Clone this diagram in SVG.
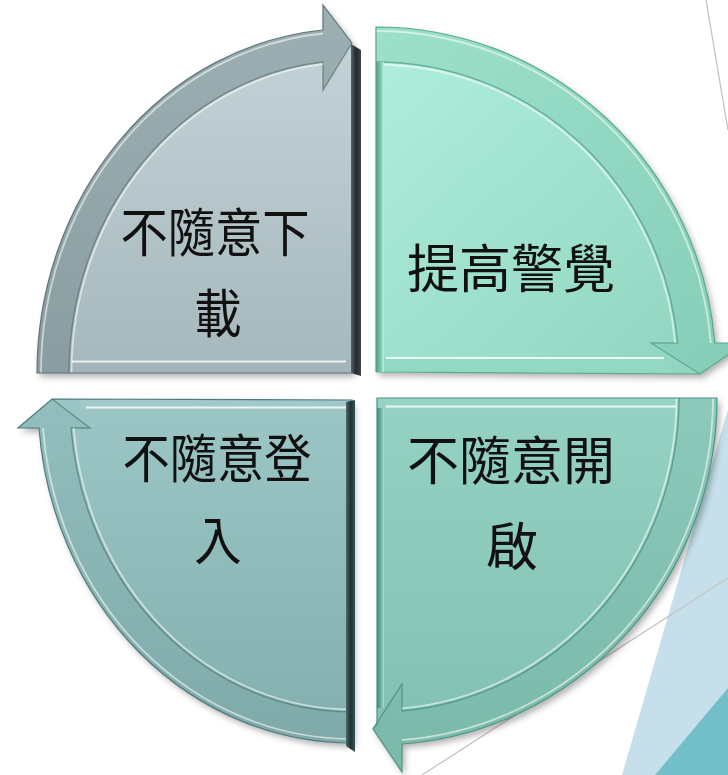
<svg xmlns="http://www.w3.org/2000/svg" width="728" height="775" viewBox="0 0 728 775">
<style>
.edge{fill:none;stroke-width:1.2}
.hl{fill:none;stroke:#ffffff;stroke-opacity:.55;stroke-width:1.8}
.gr{fill:none;stroke-opacity:.7;stroke-width:1.4}
.lbl{font-family:"Noto Sans CJK TC","Noto Sans CJK SC",sans-serif;font-size:52px;fill:#111;text-anchor:middle}
.bg{stroke:#c4c4c4;stroke-width:1.3;fill:none}
</style>
<defs>
<filter id="sh" x="-10%" y="-10%" width="125%" height="125%">
<feDropShadow dx="3" dy="4" stdDeviation="3" flood-color="#000" flood-opacity="0.3"/>
</filter>
<linearGradient id="gTL" x1="0" y1="0" x2="0" y2="1"><stop offset="0" stop-color="#c6d5d9"/><stop offset="1" stop-color="#a6b8bc"/></linearGradient>
<linearGradient id="gTLs" x1="0" y1="0" x2="0" y2="1"><stop offset="0" stop-color="#9cafb3"/><stop offset="1" stop-color="#8a9da1"/></linearGradient>
<linearGradient id="gTR" x1="0" y1="0" x2="1" y2="1"><stop offset="0" stop-color="#b0efdd"/><stop offset="1" stop-color="#8ed3be"/></linearGradient>
<linearGradient id="gTRs" x1="0" y1="0" x2="1" y2="1"><stop offset="0" stop-color="#9ce0ca"/><stop offset="1" stop-color="#86cdb7"/></linearGradient>
<linearGradient id="gBR" x1="0" y1="0" x2="0" y2="1"><stop offset="0" stop-color="#95d2c4"/><stop offset="1" stop-color="#7fbeb0"/></linearGradient>
<linearGradient id="gBRs" x1="0" y1="0" x2="0" y2="1"><stop offset="0" stop-color="#8bcaba"/><stop offset="1" stop-color="#7ab9aa"/></linearGradient>
<linearGradient id="gBL" x1="0" y1="0" x2="0" y2="1"><stop offset="0" stop-color="#9bc6c5"/><stop offset="1" stop-color="#82afae"/></linearGradient>
<linearGradient id="gBLs" x1="0" y1="0" x2="0" y2="1"><stop offset="0" stop-color="#92bebd"/><stop offset="1" stop-color="#7faaa9"/></linearGradient>
<linearGradient id="darkV" x1="0" y1="0" x2="1" y2="0"><stop offset="0" stop-color="#56626a"/><stop offset="0.5" stop-color="#23292c"/><stop offset="1" stop-color="#3e474b"/></linearGradient>
<linearGradient id="darkV2" x1="0" y1="0" x2="1" y2="0"><stop offset="0" stop-color="#4c6a6b"/><stop offset="0.5" stop-color="#203233"/><stop offset="1" stop-color="#355253"/></linearGradient>
<linearGradient id="mintL" x1="0" y1="0" x2="1" y2="0"><stop offset="0" stop-color="#4f9c86"/><stop offset="0.6" stop-color="#7fc8b2"/><stop offset="1" stop-color="#b8f3e2"/></linearGradient>
<linearGradient id="tealL" x1="0" y1="0" x2="1" y2="0"><stop offset="0" stop-color="#3f8676"/><stop offset="0.6" stop-color="#70b4a6"/><stop offset="1" stop-color="#a6dccf"/></linearGradient>
</defs>
<rect width="728" height="775" fill="#ffffff"/>
<g id="background">
<polygon points="728,409 622,775 728,775" fill="#c5e0ea"/>
<polygon points="728,688 655,775 728,775" fill="#73bfc9"/>
<line class="bg" x1="706" y1="0" x2="728" y2="130"/>
<line class="bg" x1="728" y1="578" x2="422" y2="775"/>
</g>

<g id="node-download">
<path filter="url(#sh)" fill="url(#gTL)" d="M352,373 L37,373 A315,345 0 0 1 323,30 L323,5 L352,43 Z"/>
<path fill="url(#gTLs)" d="M37,373 A315,345 0 0 1 323,30 L323,5 L352,43 L323,90 L323,62 A283,313 0 0 0 69,373 Z"/>
<rect x="69" y="360" width="283" height="13" fill="#a3b5b9"/>
<line x1="72" y1="361.5" x2="346" y2="361.5" stroke="#ffffff" stroke-opacity=".8" stroke-width="2"/>
<path class="hl" d="M41,373 A311,341 0 0 1 323,33.5"/>
<path class="gr" stroke="#5d7074" d="M69,373 A283,313 0 0 1 323,62 L323,90 L352,43"/>
<path class="hl" d="M71.5,373 A280.5,310.5 0 0 1 323,64.2"/>
<path class="edge" stroke="#5f7478" d="M352,373 L37,373 A315,345 0 0 1 323,30 L323,5 L352,43"/>
<polygon points="351,44 361,50 361,376 351,373" fill="url(#darkV)"/>
<text class="lbl" transform="translate(215,252) scale(0.91,1)" x="0" y="0">不隨意下</text>
<text class="lbl" transform="translate(218,333) scale(0.91,1)" x="0" y="0">載</text>
</g>

<g id="node-alert">
<path filter="url(#sh)" fill="url(#gTR)" d="M376,372 L376,27 A340,345 0 0 1 714.8,343 L745,343 L700,374 Z"/>
<path fill="url(#gTRs)" d="M376,27 A340,345 0 0 1 714.8,343 L745,343 L700,374 L651,343 L677.7,343 A303,310 0 0 0 376,62 Z"/>
<rect x="384" y="358" width="282" height="14" fill="#93d8c3"/>
<line x1="386" y1="358" x2="664" y2="358" stroke="#ffffff" stroke-opacity=".8" stroke-width="2"/>
<path class="hl" d="M376,31 A336,341 0 0 1 710.8,343"/>
<path class="gr" stroke="#4f9a84" d="M376,62 A303,310 0 0 1 677.7,343 L651,343 L700,374"/>
<path class="hl" d="M376,64.5 A300.5,307.5 0 0 1 675.2,343"/>
<path class="edge" stroke="#5aa891" d="M376,372 L376,27 A340,345 0 0 1 714.8,343 L745,343 L700,374 L376,372"/>
<rect x="376" y="62" width="8" height="310" fill="url(#mintL)"/>
<text class="lbl" x="511" y="288">提高警覺</text>
</g>

<g id="node-open">
<path filter="url(#sh)" fill="url(#gBR)" d="M377,398 L717,398 A340,347 0 0 1 402,744 L402,772 L373,729 L377,724 Z"/>
<path fill="url(#gBRs)" d="M717,398 A340,347 0 0 1 402,744 L402,772 L373,729 L402,684 L402,711 A302,314 0 0 0 679,398 Z"/>
<rect x="384" y="398" width="295" height="10" fill="#98d4c6"/>
<line x1="386" y1="406.5" x2="676" y2="406.5" stroke="#ffffff" stroke-opacity=".8" stroke-width="2"/>
<path class="hl" d="M713,398 A336,343 0 0 1 402,740"/>
<path class="gr" stroke="#468c7d" d="M679,398 A302,314 0 0 1 402,711 L402,684 L373,729"/>
<path class="hl" d="M676.5,398 A299.5,311.5 0 0 1 402,708.4"/>
<path class="edge" stroke="#4c9585" d="M377,398 L717,398 A340,347 0 0 1 402,744 L402,772 L373,729 L377,724 Z"/>
<rect x="377" y="408" width="7" height="300" fill="url(#tealL)"/>
<text class="lbl" x="511" y="480">不隨意開</text>
<text class="lbl" x="512" y="566">啟</text>
</g>

<g id="node-login">
<path filter="url(#sh)" fill="url(#gBL)" d="M352,400 L352,743 A314,343 0 0 1 39,428 L18,428 L52,399 Z"/>
<path fill="url(#gBLs)" d="M352,743 A314,343 0 0 1 39,428 L18,428 L52,399 L90,428 L71,428 A282,312 0 0 0 352,712 Z"/>
<rect x="80" y="400" width="272" height="10" fill="#a0cac9"/>
<line x1="86" y1="407.5" x2="346" y2="407.5" stroke="#ffffff" stroke-opacity=".8" stroke-width="2"/>
<path class="hl" d="M352,739 A310,339 0 0 1 43,428"/>
<path class="gr" stroke="#4f7c7b" d="M352,712 A282,312 0 0 1 71,428 L90,428 L52,399"/>
<path class="hl" d="M352,709.5 A279.5,309.5 0 0 1 73.6,428"/>
<path class="edge" stroke="#4f7b7b" d="M352,400 L352,743 A314,343 0 0 1 39,428 L18,428 L52,399 Z"/>
<polygon points="346,402 355,400 355,752 346,746" fill="url(#darkV2)"/>
<text class="lbl" transform="translate(217,478) scale(0.91,1)" x="0" y="0">不隨意登</text>
<text class="lbl" transform="translate(218,560) scale(0.91,1)" x="0" y="0">入</text>
</g>
</svg>
